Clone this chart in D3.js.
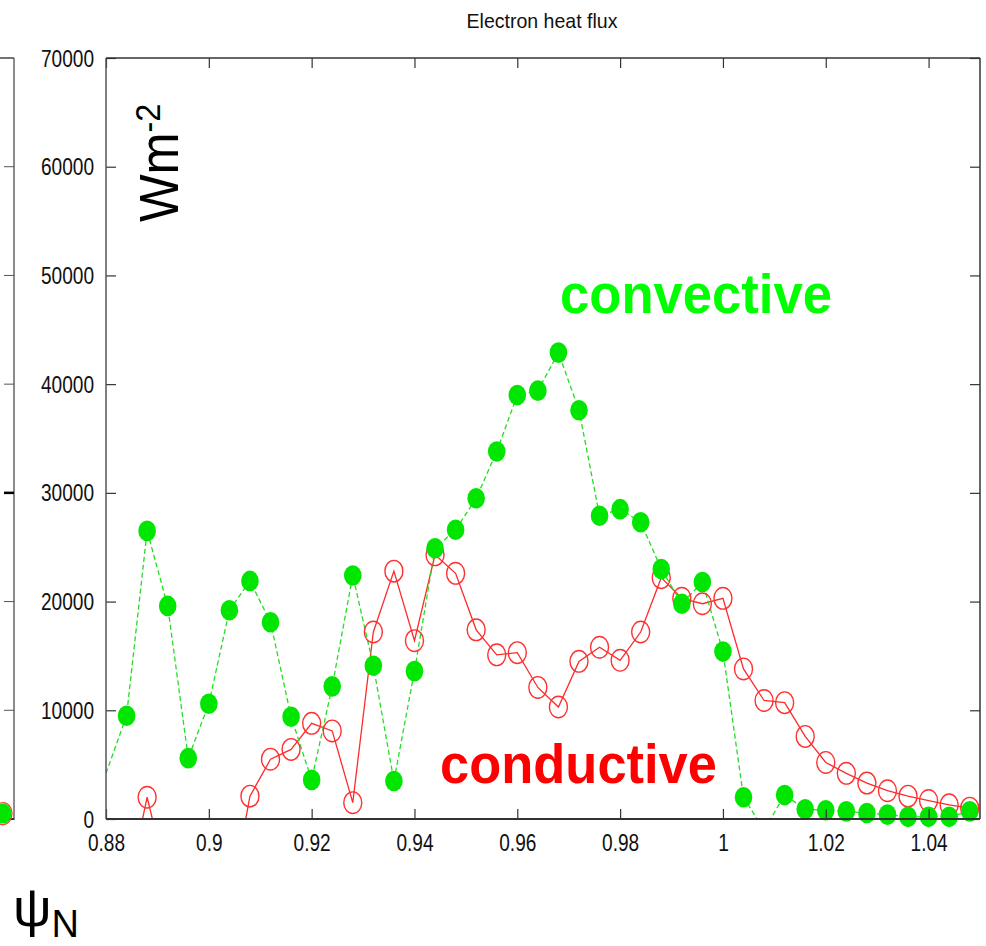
<!DOCTYPE html>
<html>
<head>
<meta charset="utf-8">
<script src="https://cdn.jsdelivr.net/npm/d3@7/dist/d3.min.js"></script>
<style>
  html, body { margin: 0; padding: 0; background: #fff; }
  svg { display: block; }
  text { font-family: "Liberation Sans", Arial, sans-serif; }
</style>
</head>
<body>
<svg id="chart" width="986" height="946"></svg>
<script>
// ---- data ----
const psi = [0.880, 0.884, 0.888, 0.892, 0.896, 0.900, 0.904, 0.908, 0.912, 0.916,
             0.920, 0.924, 0.928, 0.932, 0.936, 0.940, 0.944, 0.948, 0.952, 0.956,
             0.960, 0.964, 0.968, 0.972, 0.976, 0.980, 0.984, 0.988, 0.992, 0.996,
             1.000, 1.004, 1.008, 1.012, 1.016, 1.020, 1.024, 1.028, 1.032, 1.036,
             1.040, 1.044, 1.048];
const convective = [4200, 9500, 26500, 19600, 5600, 10600, 19200, 21900, 18100, 9400,
                    3600, 12200, 22400, 14100, 3500, 13600, 24900, 26600, 29500, 33800,
                    39000, 39400, 42900, 37600, 27900, 28500, 27300, 23000, 19800, 21800,
                    15400, 2000, -1000, 2200, 900, 800, 700, 550, 400, 200,
                    200, 200, 700];
const conductive = [-6000, -6900, 2000, -5800, -7000, -8000, -8100, 2100, 5500, 6400,
                    8800, 8100, 1500, 17200, 22800, 16400, 24300, 22600, 17400, 15100,
                    15300, 12100, 10300, 14500, 15800, 14600, 17200, 22200, 20300, 19800,
                    20300, 13800, 10900, 10700, 7600, 5200, 4200, 3300, 2600, 2100,
                    1700, 1300, 1000];
const xTicks = [0.88, 0.90, 0.92, 0.94, 0.96, 0.98, 1.00, 1.02, 1.04];
const yTicks = [0, 10000, 20000, 30000, 40000, 50000, 60000, 70000];
const xDomain = [0.88, 1.05];
const yDomain = [0, 70000];
const title = "Electron heat flux";

// ---- layout ----
const L = 106, R = 980, T = 58, B = 819;
const svg = d3.select("#chart");
const x = d3.scaleLinear().domain(xDomain).range([L, R]);
const y = d3.scaleLinear().domain(yDomain).range([B, T]);

const conv = psi.map((p, i) => ({ p, v: convective[i] }));
const cond = psi.map((p, i) => ({ p, v: conductive[i] }));

svg.append("defs").append("clipPath").attr("id", "plotclip")
  .append("rect").attr("x", L).attr("y", T).attr("width", R - L).attr("height", B - T);

// ---- partial neighbour panel on the left ----
const lp = svg.append("g");
lp.append("line").attr("x1", 14).attr("x2", 14).attr("y1", T).attr("y2", B + 1)
  .attr("stroke", "#666").attr("stroke-width", 1.5);
lp.append("line").attr("x1", 0).attr("x2", 14).attr("y1", T).attr("y2", T)
  .attr("stroke", "#444").attr("stroke-width", 1.5);
lp.append("line").attr("x1", 0).attr("x2", 14).attr("y1", B).attr("y2", B)
  .attr("stroke", "#333").attr("stroke-width", 2);
lp.selectAll("line.lt").data(yTicks.filter(d => d > 0 && d < 70000)).join("line")
  .attr("class", "lt")
  .attr("x1", 4).attr("x2", 14).attr("y1", d => y(d)).attr("y2", d => y(d))
  .attr("stroke", d => d === 30000 ? "#000" : "#555")
  .attr("stroke-width", d => d === 30000 ? 2.5 : 1);
lp.append("ellipse").attr("cx", 3).attr("cy", y(500)).attr("rx", 9).attr("ry", 11)
  .attr("fill", "none").attr("stroke", "#ff4040").attr("stroke-width", 1.3);
lp.append("ellipse").attr("cx", 3).attr("cy", y(500)).attr("rx", 8.5).attr("ry", 10)
  .attr("fill", "#00e600");

// ---- title ----
svg.append("text").attr("x", 542).attr("y", 28).attr("text-anchor", "middle")
  .attr("font-size", 21).attr("textLength", 151).attr("lengthAdjust", "spacingAndGlyphs")
  .attr("fill", "#111").text(title);

// ---- series ----
const line = d3.line().x(d => x(d.p)).y(d => y(d.v));
const plot = svg.append("g").attr("clip-path", "url(#plotclip)");

plot.append("path").datum(cond).attr("d", line)
  .attr("fill", "none").attr("stroke", "#ff2a2a").attr("stroke-width", 1.3);
plot.append("path").datum(conv).attr("d", line)
  .attr("fill", "none").attr("stroke", "#22dd22").attr("stroke-width", 1.3)
  .attr("stroke-dasharray", "5,3");

const visible = d => d.p > xDomain[0] && d.v >= 0;
svg.append("g").selectAll("ellipse").data(cond.filter(visible)).join("ellipse")
  .attr("cx", d => x(d.p)).attr("cy", d => y(d.v)).attr("rx", 9).attr("ry", 10.8)
  .attr("fill", "none").attr("stroke", "#ff3030").attr("stroke-width", 1.4);
svg.append("g").selectAll("ellipse").data(conv.filter(visible)).join("ellipse")
  .attr("cx", d => x(d.p)).attr("cy", d => y(d.v)).attr("rx", 8.8).attr("ry", 10.3)
  .attr("fill", "#00e600");

// ---- axes / frame ----
const fmtX = d3.format("~g"), fmtY = d3.format("d");
const axB = svg.append("g").attr("transform", `translate(0,${B})`)
  .call(d3.axisBottom(x).tickValues(xTicks).tickSize(-10).tickFormat(fmtX));
const axT = svg.append("g").attr("transform", `translate(0,${T})`)
  .call(d3.axisTop(x).tickValues(xTicks).tickSize(-10).tickFormat(""));
const axL = svg.append("g").attr("transform", `translate(${L},0)`)
  .call(d3.axisLeft(y).tickValues(yTicks).tickSize(-10).tickFormat(fmtY));
const axR = svg.append("g").attr("transform", `translate(${R},0)`)
  .call(d3.axisRight(y).tickValues(yTicks).tickSize(-10).tickFormat(""));

[axB, axT, axL, axR].forEach(a => {
  a.select(".domain").remove();
  a.selectAll(".tick line").attr("stroke", "#333").attr("stroke-width", 1.2);
});
axB.selectAll(".tick text").attr("fill", "#111").attr("font-size", 23)
  .attr("y", 0).attr("dy", null)
  .attr("transform", "translate(0,32) scale(0.83,1)");
axL.selectAll(".tick text").attr("fill", "#111").attr("font-size", 23)
  .attr("x", 0).attr("dy", "0.35em")
  .attr("transform", "translate(-12,0) scale(0.83,1)");

// frame
svg.append("line").attr("x1", L).attr("x2", L).attr("y1", T).attr("y2", B)
  .attr("stroke", "#555").attr("stroke-width", 1.5);
svg.append("line").attr("x1", R).attr("x2", R).attr("y1", T).attr("y2", B)
  .attr("stroke", "#333").attr("stroke-width", 1.5);
svg.append("line").attr("x1", L).attr("x2", R).attr("y1", T).attr("y2", T)
  .attr("stroke", "#333").attr("stroke-width", 1.5);
svg.append("line").attr("x1", L).attr("x2", R).attr("y1", B).attr("y2", B)
  .attr("stroke", "#333").attr("stroke-width", 2.2);

// ---- annotations ----
const wm = svg.append("text").attr("transform", "translate(178,222) rotate(-90) scale(0.9,1)")
  .attr("font-size", 56).attr("fill", "#000");
wm.append("tspan").text("Wm");
wm.append("tspan").attr("font-size", 36).attr("dy", -18).text("-2");

svg.append("text").attr("x", 560).attr("y", 313).attr("font-size", 56)
  .attr("font-weight", "bold").attr("fill", "#00ff00")
  .attr("textLength", 272).attr("lengthAdjust", "spacingAndGlyphs").text("convective");
svg.append("text").attr("x", 440).attr("y", 783).attr("font-size", 56)
  .attr("font-weight", "bold").attr("fill", "#ff0000")
  .attr("textLength", 277).attr("lengthAdjust", "spacingAndGlyphs").text("conductive");

const psiLab = svg.append("text").attr("x", 13).attr("y", 926).attr("fill", "#000");
psiLab.append("tspan").attr("font-size", 54).text("ψ");
psiLab.append("tspan").attr("font-size", 38).attr("dy", 11).text("N");
</script>
</body>
</html>
